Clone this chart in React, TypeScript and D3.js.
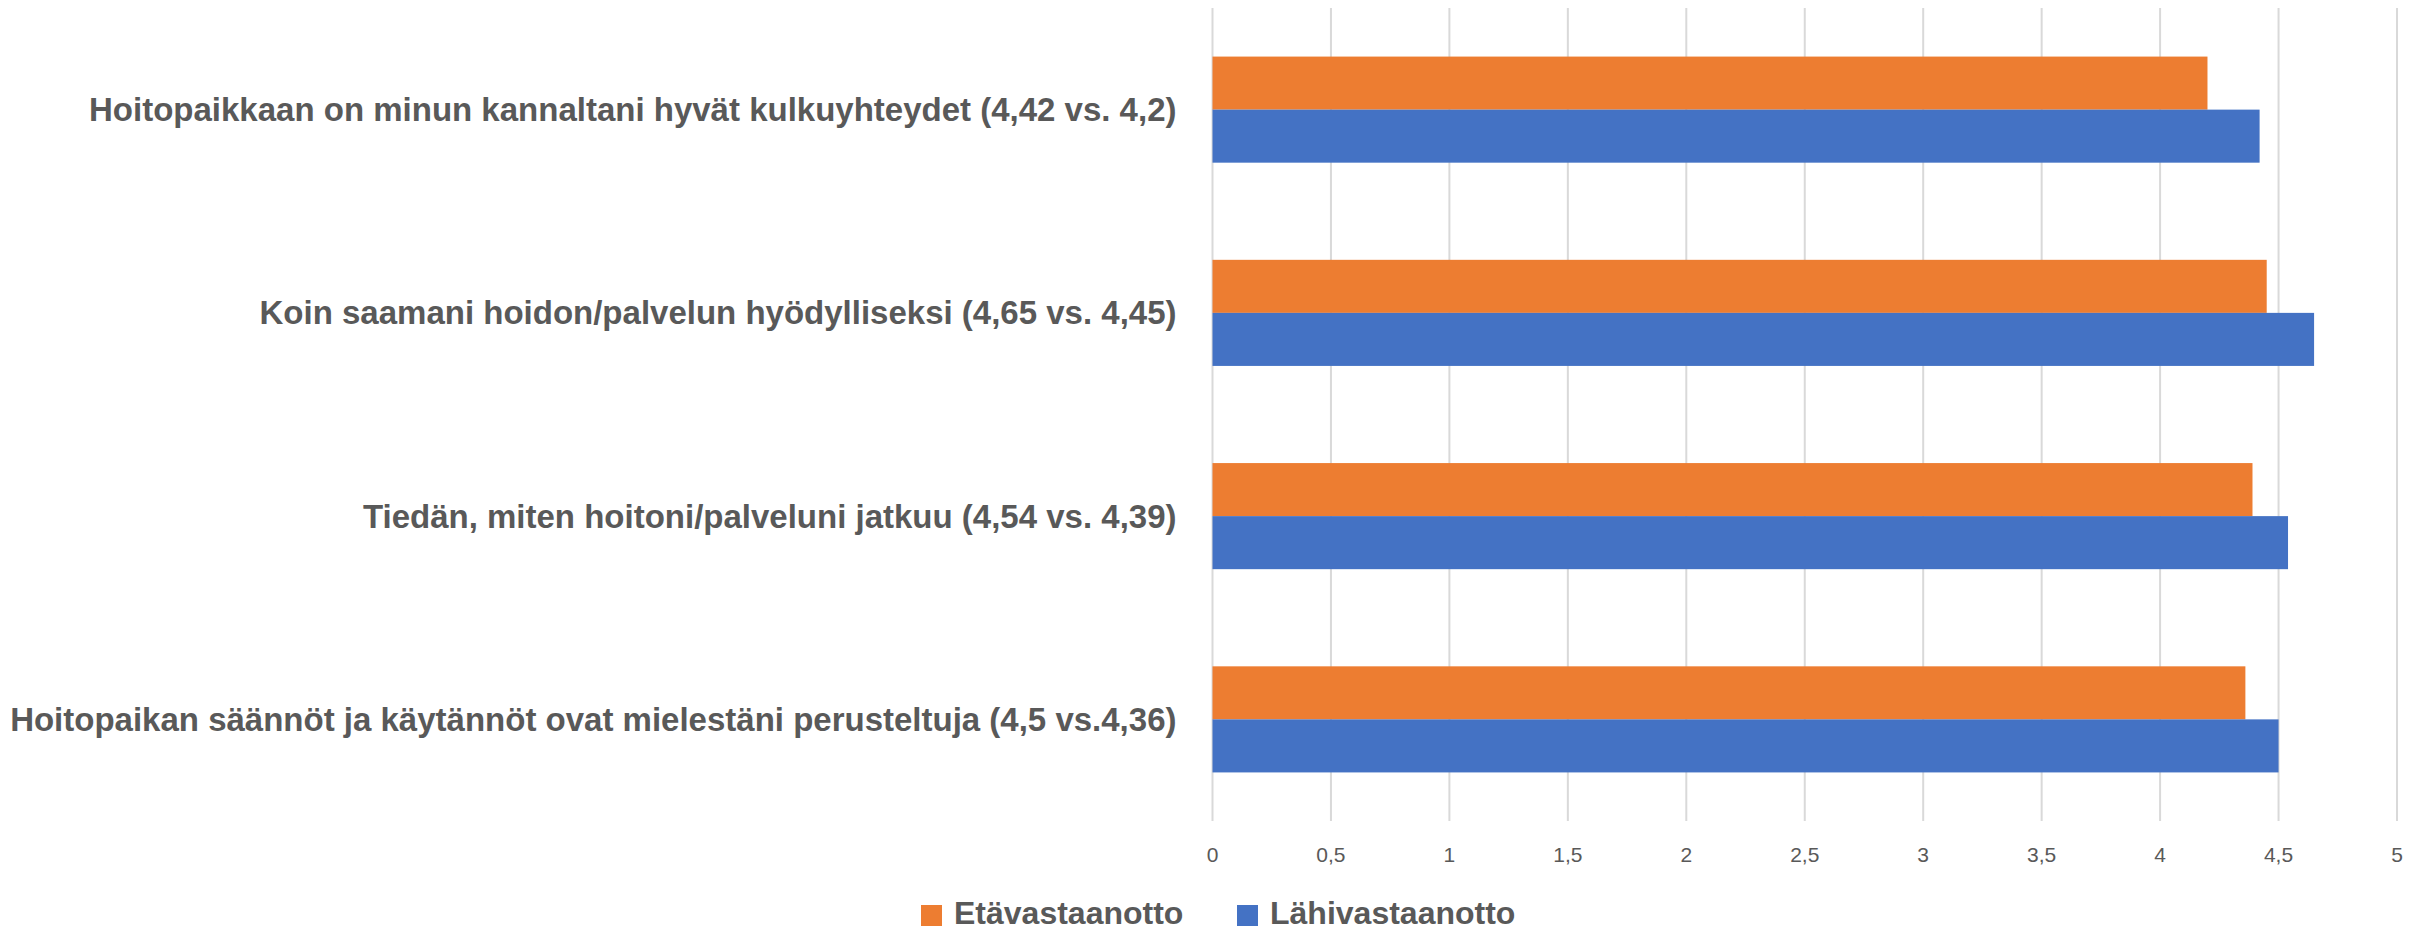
import React from 'react';
import * as d3 from 'd3';

// chart data (top to bottom)
const categories = [
  'Hoitopaikkaan on minun kannaltani hyvät kulkuyhteydet (4,42 vs. 4,2)',
  'Koin saamani hoidon/palvelun hyödylliseksi (4,65 vs. 4,45)',
  'Tiedän, miten hoitoni/palveluni jatkuu (4,54 vs. 4,39)',
  'Hoitopaikan säännöt ja käytännöt ovat mielestäni perusteltuja (4,5 vs.4,36)',
];
const seriesNames = ['Etävastaanotto', 'Lähivastaanotto'];
const etaValues = [4.2, 4.45, 4.39, 4.36];
const lahiValues = [4.42, 4.65, 4.54, 4.5];
const xTicks = [0, 0.5, 1, 1.5, 2, 2.5, 3, 3.5, 4, 4.5, 5];

const colors: Record<string, string> = {
  Etävastaanotto: '#ED7D31',
  Lähivastaanotto: '#4472C4',
};

const width = 2425;
const height = 930;
const margin = { left: 1212.5, right: 28, top: 8, bottom: 109 };
const textColor = '#595959';
const fontFamily = '"Liberation Sans", Arial, sans-serif';

export default function App() {
  const x = d3
    .scaleLinear()
    .domain([0, 5])
    .range([margin.left, width - margin.right]);

  const y = d3
    .scaleBand<string>()
    .domain(categories)
    .range([margin.top, height - margin.bottom])
    .paddingInner(0.478)
    .paddingOuter(0.239);

  const ySub = d3.scaleBand<string>().domain(seriesNames).range([0, y.bandwidth()]);

  const rows = categories.map((c, i) => ({
    cat: c,
    vals: [
      { name: 'Etävastaanotto', v: etaValues[i] },
      { name: 'Lähivastaanotto', v: lahiValues[i] },
    ],
  }));

  const plotBottom = height - margin.bottom;

  return (
    <div style={{ position: 'fixed', left: 0, top: 0 }}>
      <svg width={width} height={height} style={{ display: 'block', background: '#fff' }}>
        {/* gridlines */}
        {xTicks.map((t) => (
          <line
            key={'g' + t}
            x1={x(t)}
            x2={x(t)}
            y1={margin.top}
            y2={plotBottom}
            stroke="#D9D9D9"
            strokeWidth={2}
          />
        ))}
        {/* bars */}
        {rows.map((r) => (
          <g key={r.cat} transform={`translate(0,${y(r.cat)})`}>
            {r.vals.map((d) => (
              <rect
                key={d.name}
                x={x(0)}
                y={ySub(d.name)}
                width={x(d.v) - x(0)}
                height={ySub.bandwidth()}
                fill={colors[d.name]}
              />
            ))}
          </g>
        ))}
        {/* category labels */}
        {categories.map((c) => (
          <text
            key={'l' + c}
            x={x(0) - 36}
            y={(y(c) as number) + y.bandwidth() / 2}
            dy="0.35em"
            textAnchor="end"
            fontFamily={fontFamily}
            fontWeight="bold"
            fontSize={33}
            fill={textColor}
          >
            {c}
          </text>
        ))}
        {/* x tick labels */}
        {xTicks.map((t) => (
          <text
            key={'t' + t}
            x={x(t)}
            y={855}
            dy="0.35em"
            textAnchor="middle"
            fontFamily={fontFamily}
            fontSize={21}
            fill={textColor}
          >
            {String(t).replace('.', ',')}
          </text>
        ))}
        {/* legend */}
        {seriesNames.map((s, i) => {
          const lx = i === 0 ? 921 : 1237;
          return (
            <g key={'lg' + s}>
              <rect x={lx} y={905} width={21} height={21} fill={colors[s]} />
              <text
                x={lx + 33}
                y={924}
                fontFamily={fontFamily}
                fontWeight="bold"
                fontSize={32}
                fill={textColor}
              >
                {s}
              </text>
            </g>
          );
        })}
      </svg>
    </div>
  );
}
